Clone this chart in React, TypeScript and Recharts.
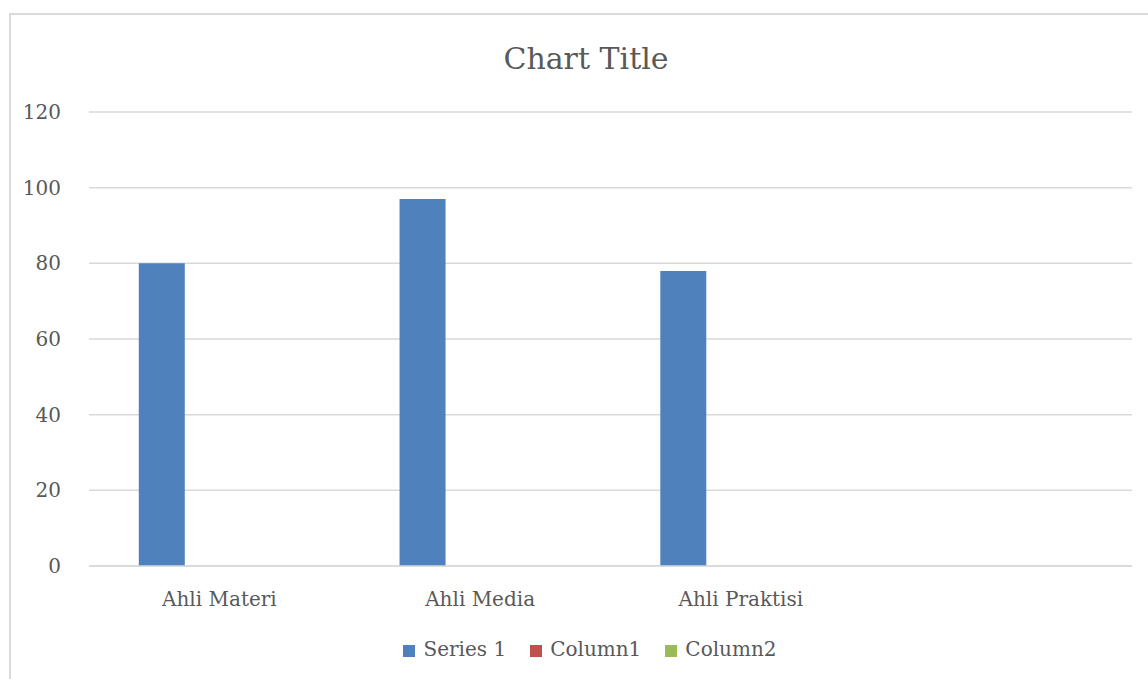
import React from "react";
import { BarChart, Bar, XAxis, YAxis, CartesianGrid, Legend } from "recharts";

const categories = ["Ahli Materi", "Ahli Media", "Ahli Praktisi", ""];
const series1 = [80, 97, 78, null];
const column1 = [null, null, null, null];
const column2 = [null, null, null, null];
const yTicks = [0, 20, 40, 60, 80, 100, 120];
const legendOrder = ["Series 1", "Column1", "Column2"];

const data = categories.map((c, i) => ({
  name: c,
  s1: series1[i],
  c1: column1[i],
  c2: column2[i],
}));

const FONT = "'DejaVu Serif', serif";
const TEXT = "#595959";

export default function App() {
  return (
    <div style={{ position: "absolute", left: 0, top: 0, width: 1148, height: 679, overflow: "hidden", background: "#fff", fontFamily: FONT }}>
      <div style={{ position: "absolute", left: 9, top: 13, width: 1160, height: 720, border: "2px solid #d9d9d9", boxSizing: "border-box" }} />
      <div style={{ position: "absolute", left: 10, width: 1152, top: 37, textAlign: "center", fontSize: 30, color: TEXT, lineHeight: "44px" }}>
        Chart Title
      </div>
      <div style={{ position: "absolute", left: 0, top: 0 }}>
        <BarChart
          width={1148}
          height={679}
          data={data}
          margin={{ top: 112, right: 16, bottom: 0, left: 0 }}
          barCategoryGap="19.1%"
          barGap={12}
        >
          <CartesianGrid horizontal vertical={false} stroke="#d9d9d9" strokeWidth={1.5} />
          <YAxis
            width={89}
            domain={[0, 120]}
            ticks={yTicks}
            axisLine={false}
            tickLine={false}
            tickMargin={22}
            tick={{ fill: TEXT, fontSize: 20, fontFamily: FONT }}
            interval={0}
          />
          <XAxis
            dataKey="name"
            height={113}
            axisLine={{ stroke: "#d9d9d9", strokeWidth: 1.5 }}
            tickLine={false}
            tickMargin={20}
            tick={{ fill: TEXT, fontSize: 20, fontFamily: FONT }}
            interval={0}
          />
          <Legend
            verticalAlign="middle"
            align="center"
            layout="horizontal"
            iconType="square"
            iconSize={12}
            itemSorter={(item: any) => legendOrder.indexOf(item.value)}
            wrapperStyle={{ top: 637, left: 12, width: 1180, fontFamily: FONT, fontSize: 20, color: TEXT }}
            formatter={(v) => <span style={{ color: TEXT, marginLeft: 4, marginRight: 14 }}>{v}</span>}
          />
          <Bar dataKey="s1" name="Series 1" fill="#4f81bd" isAnimationActive={false} />
          <Bar dataKey="c1" name="Column1" fill="#c0504d" isAnimationActive={false} />
          <Bar dataKey="c2" name="Column2" fill="#9bbb59" isAnimationActive={false} />
        </BarChart>
      </div>
    </div>
  );
}
